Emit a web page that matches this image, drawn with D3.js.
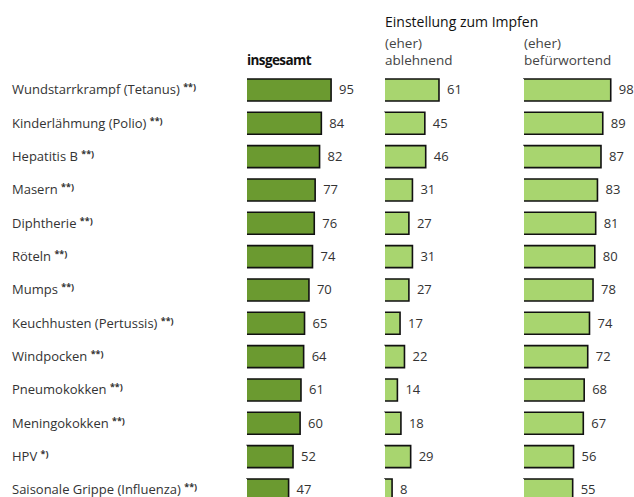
<!DOCTYPE html>
<html>
<head>
<meta charset="utf-8">
<script src="https://cdn.jsdelivr.net/npm/d3@7"></script>
<style>
  body { margin: 0; background: #fff; }
  text { font-family: "Open Sans", sans-serif; }
</style>
</head>
<body>
<div id="viz-container"></div>
<script>
// data
let categories = [
  "Wundstarrkrampf (Tetanus)", "Kinderlähmung (Polio)", "Hepatitis B", "Masern",
  "Diphtherie", "Röteln", "Mumps", "Keuchhusten (Pertussis)", "Windpocken",
  "Pneumokokken", "Meningokokken", "HPV", "Saisonale Grippe (Influenza)"
];
let notes = ["**)", "**)", "**)", "**)", "**)", "**)", "**)", "**)", "**)", "**)", "**)", "*)", "**)"];
let insgesamt    = [95, 84, 82, 77, 76, 74, 70, 65, 64, 61, 60, 52, 47];
let ablehnend    = [61, 45, 46, 31, 27, 31, 27, 17, 22, 14, 18, 29, 8];
let befuerwortend = [98, 89, 87, 83, 81, 80, 78, 74, 72, 68, 67, 56, 55];

let panels = [
  {values: insgesamt, x0: 247, fill: "#6b9a30"},
  {values: ablehnend, x0: 385, fill: "#a8d56f"},
  {values: befuerwortend, x0: 524, fill: "#a8d56f"}
];

let viz = d3.select("#viz-container")
  .append("svg")
    .attr("width", 634)
    .attr("height", 497)
;

let y = d3.scaleBand()
    .domain(categories)
    .range([73.3, 73.3 + 13 * 33.33])
    .paddingInner(0.34)
    .paddingOuter(0.17);

let x = d3.scaleLinear().domain([0, 100]).range([0, 88.5]);

// row labels
let lab = viz.append("g").selectAll("text").data(categories).enter()
  .append("text")
    .attr("x", 12)
    .attr("y", d => y(d) + y.bandwidth() / 2 + 4.5)
    .attr("font-size", 13)
    .attr("fill", "#333");
lab.append("tspan").text(d => d + " ");
lab.append("tspan")
    .attr("font-size", 9)
    .attr("font-weight", "bold")
    .attr("dy", -4)
    .text((d, i) => notes[i]);

// headers
viz.append("text").attr("x", 385).attr("y", 27)
    .attr("font-size", 14).attr("fill", "#111")
    .text("Einstellung zum Impfen");
viz.append("text").attr("x", 247).attr("y", 65)
    .attr("font-size", 13.5).attr("font-weight", "bold").attr("letter-spacing", -0.6)
    .attr("fill", "#111")
    .text("insgesamt");
[[385, "ablehnend"], [524, "befürwortend"]].forEach(h => {
  viz.append("text").attr("x", h[0]).attr("y", 48)
      .attr("font-size", 13.5).attr("fill", "#444").text("(eher)");
  viz.append("text").attr("x", h[0]).attr("y", 65)
      .attr("font-size", 13.5).attr("fill", "#444").text(h[1]);
});

// bars
panels.forEach(p => {
  let g = viz.append("g").attr("transform", "translate(" + p.x0 + ",0)");
  let rows = p.values.map((v, i) => ({cat: categories[i], v: v}));

  g.selectAll("rect").data(rows).enter()
    .append("rect")
      .attr("x", 0)
      .attr("y", d => y(d.cat))
      .attr("width", d => x(d.v))
      .attr("height", y.bandwidth())
      .attr("fill", p.fill)
      .attr("stroke", "#111")
      .attr("stroke-width", 1.6)
      // no dark line on the left edge
      .attr("stroke-dasharray", d => {
        let w = x(d.v), h = y.bandwidth();
        return (2 * w + h) + "," + h;
      });

  g.selectAll("text").data(rows).enter()
    .append("text")
      .attr("x", d => x(d.v) + 8)
      .attr("y", d => y(d.cat) + y.bandwidth() / 2 + 4.5)
      .attr("font-size", 13)
      .attr("fill", "#333")
      .text(d => d.v);
});
</script>
</body>
</html>
